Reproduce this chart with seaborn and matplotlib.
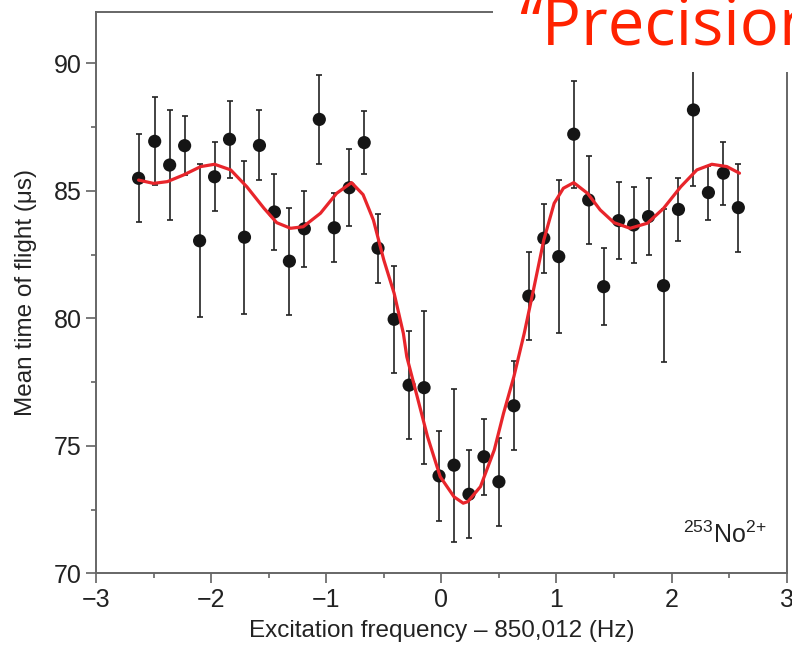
import numpy as np
import pandas as pd
import seaborn as sns
import matplotlib.pyplot as plt
from matplotlib.patches import Rectangle
from matplotlib.ticker import MultipleLocator

# measured points (frequency offset in Hz, mean TOF in us, error)
freq = [-2.63, -2.49, -2.36, -2.23, -2.10, -1.97, -1.84, -1.71, -1.58, -1.45,
        -1.32, -1.19, -1.06, -0.93, -0.80, -0.67, -0.55, -0.41, -0.28, -0.15,
        -0.02, 0.11, 0.24, 0.37, 0.50, 0.63, 0.76, 0.89, 1.02, 1.15,
        1.28, 1.41, 1.54, 1.67, 1.80, 1.93, 2.06, 2.19, 2.32, 2.45, 2.58]
tof = [85.49, 86.94, 86.01, 86.77, 83.04, 85.55, 87.02, 83.18, 86.78, 84.17,
       82.24, 83.51, 87.80, 83.55, 85.12, 86.89, 82.75, 79.96, 77.38, 77.28,
       73.82, 74.24, 73.10, 74.57, 73.59, 76.57, 80.87, 83.14, 82.42, 87.22,
       84.64, 81.24, 83.83, 83.66, 83.99, 81.28, 84.27, 88.17, 84.93, 85.69, 84.34]
tof_err = [1.73, 1.72, 2.15, 1.15, 3.0, 1.35, 1.5, 3.0, 1.37, 1.5,
           2.1, 1.5, 1.75, 1.35, 1.5, 1.22, 1.35, 2.1, 2.13, 3.0,
           1.75, 3.0, 1.73, 1.5, 1.73, 1.74, 1.73, 1.35, 3.0, 2.1,
           1.74, 1.5, 1.5, 1.5, 1.5, 3.0, 1.22, 3.0, 1.06, 1.23, 1.73]

# fitted line shape
fit_x = [-2.63, -2.50, -2.38, -2.24, -2.09, -1.97, -1.83, -1.69, -1.54, -1.43,
         -1.31, -1.20, -1.05, -0.91, -0.78, -0.68, -0.59, -0.50, -0.41, -0.33,
         -0.30, -0.21, -0.12, -0.01, 0.11, 0.19, 0.23, 0.34, 0.46, 0.54,
         0.63, 0.72, 0.80, 0.89, 0.98, 1.06, 1.15, 1.27, 1.38, 1.50,
         1.64, 1.79, 1.93, 2.08, 2.22, 2.35, 2.48, 2.59]
fit_y = [85.42, 85.29, 85.36, 85.62, 85.95, 86.04, 85.82, 85.16, 84.31, 83.75,
         83.53, 83.59, 84.12, 84.90, 85.32, 84.85, 83.85, 82.29, 80.98, 79.41,
         78.49, 76.93, 75.36, 73.79, 73.00, 72.75, 72.81, 73.40, 74.84, 76.27,
         77.71, 79.41, 81.11, 83.07, 84.51, 85.10, 85.32, 84.90, 84.25, 83.75,
         83.53, 83.73, 84.31, 85.16, 85.82, 86.04, 85.95, 85.69]

df = pd.DataFrame({'freq': freq, 'tof': tof, 'err': tof_err})
fit_df = pd.DataFrame({'x': fit_x, 'y': fit_y})

sns.set_theme(style='ticks')
plt.rcParams['font.family'] = ['Liberation Sans', 'DejaVu Sans']
plt.rcParams['mathtext.fontset'] = 'custom'
plt.rcParams['mathtext.rm'] = 'Liberation Sans'
plt.rcParams['mathtext.it'] = 'Liberation Sans'

fig = plt.figure(figsize=(7.92, 6.47), dpi=100)
ax = fig.add_axes([0.1212, 0.1139, 0.8721, 0.8671])

ax.errorbar(df.freq, df.tof, yerr=df.err, fmt='none', ecolor='#222222',
            elinewidth=1.2, capsize=2, capthick=1.2, zorder=2)
sns.scatterplot(data=df, x='freq', y='tof', color='#151515', s=90,
                edgecolor='none', zorder=3, ax=ax)
sns.lineplot(data=fit_df, x='x', y='y', sort=False, color='#e8252b',
             linewidth=2.3, zorder=4, ax=ax)

ax.set_xlim(-3, 3)
ax.set_ylim(70, 92)
ax.xaxis.set_major_locator(MultipleLocator(1))
ax.xaxis.set_minor_locator(MultipleLocator(0.5))
ax.yaxis.set_major_locator(MultipleLocator(5))
ax.yaxis.set_minor_locator(MultipleLocator(2.5))
ax.tick_params(which='major', length=7.5, width=1.1, color='#555555',
               labelsize=18, labelcolor='#222222', pad=3)
ax.tick_params(which='minor', length=3.5, width=1.1, color='#555555')
for s in ax.spines.values():
    s.set_color('#666666')
    s.set_linewidth(1.4)

ax.set_xlabel('Excitation frequency \u2013 850,012 (Hz)', fontsize=17.5,
              color='#222222', labelpad=6)
ax.set_ylabel('Mean time of flight (\u03bcs)', fontsize=17.5,
              color='#222222', labelpad=12)
ax.text(0.971, 0.054, r'$^{253}\mathrm{No}^{2{+}}$', transform=ax.transAxes,
        ha='right', va='baseline', fontsize=18, color='#222222')

# slide title overlapping the figure
fig.patches.append(Rectangle((0.6225, 0.8887), 0.5, 0.2, transform=fig.transFigure,
                             facecolor='white', edgecolor='none', zorder=10))
fig.text(0.655, 0.931, '\u201cPrecision', fontsize=47, color='#ff2200',
         family='Open Sans', ha='left', va='baseline', zorder=11)

fig.savefig('out.png', dpi=100)
